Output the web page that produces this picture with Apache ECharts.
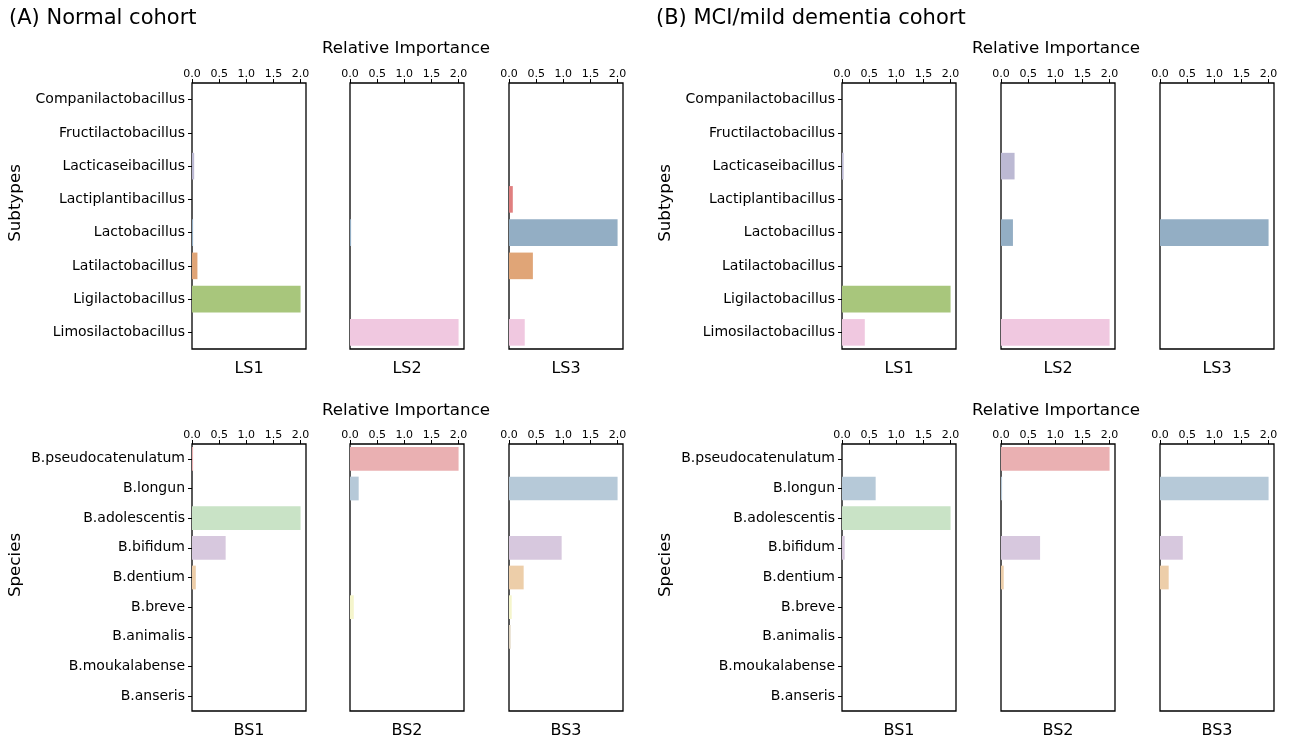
<!DOCTYPE html>
<html>
<head>
<meta charset="utf-8">
<script src="https://cdn.jsdelivr.net/npm/echarts@6/dist/echarts.min.js"></script>
<style>
  html, body { margin: 0; padding: 0; background: #fff; }
  #chart { width: 1292px; height: 742px; }
</style>
</head>
<body>
<div id="chart"></div>
<script>
// Categories
const subtypes = [
  'Companilactobacillus', 'Fructilactobacillus', 'Lacticaseibacillus', 'Lactiplantibacillus',
  'Lactobacillus', 'Latilactobacillus', 'Ligilactobacillus', 'Limosilactobacillus'
];
const species = [
  'B.pseudocatenulatum', 'B.longun', 'B.adolescentis', 'B.bifidum', 'B.dentium',
  'B.breve', 'B.animalis', 'B.moukalabense', 'B.anseris'
];
const subtypeColors = ['#9fcfc3', '#e6e6a8', '#bcb9d3', '#e07f7f', '#93aec4', '#e0a577', '#a8c67c', '#f0c8e0'];
const speciesColors = ['#eab0b2', '#b6c9d8', '#c9e3c6', '#d7c8de', '#edcea9', '#f5f5cc', '#e0d5c0', '#f5d8e8', '#eeeeee'];
const xTicks = [0, 0.5, 1, 1.5, 2];
const xMax = 2.1;

// (A) Normal cohort: relative importance per subtype / species
const normalLS1 = [0, 0, 0.04, 0, 0.02, 0.10, 2.0, 0];
const normalLS2 = [0, 0, 0, 0, 0.02, 0, 0, 2.0];
const normalLS3 = [0, 0, 0, 0.07, 2.0, 0.44, 0, 0.29];
const normalBS1 = [0.02, 0, 2.0, 0.62, 0.07, 0, 0, 0, 0];
const normalBS2 = [2.0, 0.16, 0, 0, 0, 0.07, 0, 0, 0];
const normalBS3 = [0, 2.0, 0, 0.97, 0.27, 0.05, 0.03, 0, 0];

// (B) MCI/mild dementia cohort
const mciLS1 = [0, 0, 0.03, 0, 0, 0, 2.0, 0.42];
const mciLS2 = [0, 0, 0.25, 0, 0.22, 0, 0, 2.0];
const mciLS3 = [0, 0, 0, 0, 2.0, 0, 0, 0];
const mciBS1 = [0, 0.62, 2.0, 0.05, 0, 0, 0, 0, 0];
const mciBS2 = [2.0, 0.02, 0, 0.72, 0.05, 0, 0, 0, 0];
const mciBS3 = [0, 2.0, 0, 0.42, 0.16, 0, 0, 0, 0];

const FONT = 'DejaVu Sans';
const panelW = 114;
const rows = [
  { top: 83, height: 266, cats: subtypes, colors: subtypeColors, prefix: 'LS' },
  { top: 444, height: 267, cats: species, colors: speciesColors, prefix: 'BS' }
];
const cohorts = [
  { lefts: [192, 350, 509], data: [[normalLS1, normalLS2, normalLS3], [normalBS1, normalBS2, normalBS3]] },
  { lefts: [842, 1001, 1160], data: [[mciLS1, mciLS2, mciLS3], [mciBS1, mciBS2, mciBS3]] }
];

const grid = [], xAxis = [], yAxis = [], series = [];
cohorts.forEach(c => {
  rows.forEach((r, ri) => {
    c.lefts.forEach((left, pi) => {
      const gi = grid.length;
      grid.push({
        left: left, top: r.top, width: panelW, height: r.height,
        show: true, borderColor: '#000', borderWidth: 1.3, backgroundColor: '#fff'
      });
      // value axis along the top edge
      xAxis.push({
        type: 'value', gridIndex: gi, position: 'top', min: 0, max: xMax,
        axisLine: { show: false },
        splitLine: { show: false },
        axisTick: { show: true, length: 4, customValues: xTicks, lineStyle: { color: '#000', width: 1 } },
        axisLabel: {
          customValues: xTicks, margin: 3, color: '#000', fontFamily: FONT, fontSize: 11,
          formatter: v => v.toFixed(1)
        }
      });
      // panel name under the bottom edge
      xAxis.push({
        type: 'value', gridIndex: gi, position: 'bottom', min: 0, max: xMax,
        name: r.prefix + (pi + 1), nameLocation: 'middle', nameGap: 12,
        nameTextStyle: { color: '#000', fontFamily: FONT, fontSize: 16 },
        axisLine: { show: false }, axisTick: { show: false },
        axisLabel: { show: false }, splitLine: { show: false }
      });
      yAxis.push({
        type: 'category', gridIndex: gi, data: r.cats, inverse: true,
        axisLine: { show: false },
        axisTick: { show: pi === 0, alignWithLabel: true, length: 4, lineStyle: { color: '#000', width: 1 } },
        axisLabel: { show: pi === 0, margin: 7, color: '#000', fontFamily: FONT, fontSize: 14 },
        splitLine: { show: false }
      });
      const vals = c.data[ri][pi];
      series.push({
        type: 'bar', xAxisIndex: 2 * gi, yAxisIndex: gi,
        barCategoryGap: '20%', silent: true,
        data: vals.map((v, k) => ({ value: v, itemStyle: { color: r.colors[k] } }))
      });
    });
  });
});

const titleStyle = { color: '#000', fontFamily: FONT, fontWeight: 'normal' };
const title = [
  { text: '(A) Normal cohort', left: 9, top: 8, textStyle: Object.assign({ fontSize: 21 }, titleStyle) },
  { text: '(B) MCI/mild dementia cohort', left: 656, top: 8, textStyle: Object.assign({ fontSize: 21 }, titleStyle) },
  { text: 'Relative Importance', left: 406, top: 40, textAlign: 'center', textStyle: Object.assign({ fontSize: 16.7 }, titleStyle) },
  { text: 'Relative Importance', left: 1056, top: 40, textAlign: 'center', textStyle: Object.assign({ fontSize: 16.7 }, titleStyle) },
  { text: 'Relative Importance', left: 406, top: 402, textAlign: 'center', textStyle: Object.assign({ fontSize: 16.7 }, titleStyle) },
  { text: 'Relative Importance', left: 1056, top: 402, textAlign: 'center', textStyle: Object.assign({ fontSize: 16.7 }, titleStyle) }
].map(t => Object.assign({ padding: 0 }, t));

// rotated row titles
const rowLabel = (txt, x, y) => ({
  type: 'text', x: x, y: y, rotation: Math.PI / 2,
  style: { text: txt, fill: '#000', font: '16.7px "DejaVu Sans"', align: 'center', verticalAlign: 'middle' }
});
const graphic = [
  rowLabel('Subtypes', 16, 203), rowLabel('Subtypes', 666, 203),
  rowLabel('Species', 16, 565), rowLabel('Species', 666, 565)
];

const chart = echarts.init(document.getElementById('chart'), null, { renderer: 'canvas' });
chart.setOption({
  animation: false,
  backgroundColor: '#fff',
  title, grid, xAxis, yAxis, series, graphic
});
</script>
</body>
</html>
